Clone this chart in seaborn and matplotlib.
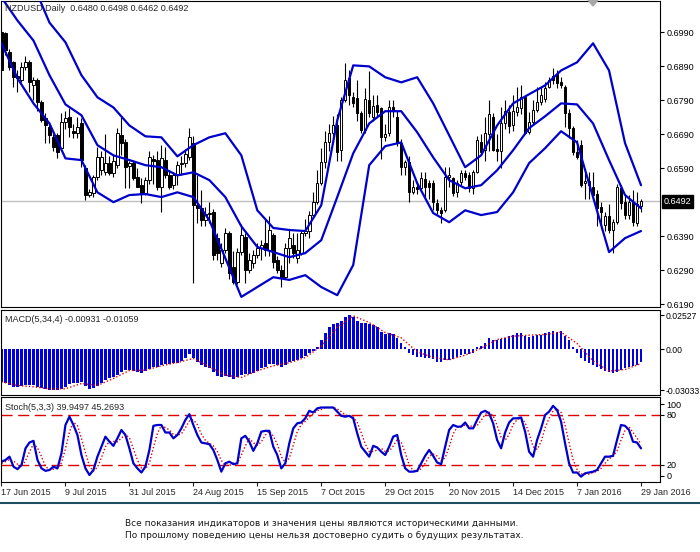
import matplotlib
matplotlib.use("Agg")
import matplotlib.pyplot as plt
import matplotlib.transforms as mtransforms
from matplotlib.lines import Line2D
from matplotlib.patches import Polygon
import numpy as np
import seaborn as sns

sns.set_style("white")
plt.rcParams['font.family'] = ['Liberation Sans', 'DejaVu Sans']

# daily NZDUSD candles, 17 Jun 2015 .. 29 Jan 2016
open_ = [
    .6990, .6987, .6931, .6902, .6863, .6849, .6887, .6902, .6834, .6849,
    .6784, .6737, .6710, .6681, .6687, .6649, .6725, .6740, .6699, .6693,
    .6722, .6590, .6511, .6517, .6564, .6585, .6578, .6605, .6576, .6599,
    .6687, .6667, .6596, .6605, .6564, .6540, .6517, .6555, .6617, .6614,
    .6534, .6614, .6570, .6540, .6570, .6602, .6605, .6623, .6664, .6481,
    .6472, .6437, .6455, .6461, .6384, .6311, .6349, .6399, .6299, .6255,
    .6343, .6387, .6290, .6311, .6334, .6355, .6370, .6349, .6393, .6320,
    .6290, .6270, .6355, .6364, .6325, .6340, .6399, .6405, .6452, .6490,
    .6546, .6608, .6667, .6693, .6717, .6643, .6790, .6855, .6799, .6796,
    .6752, .6702, .6790, .6740, .6775, .6766, .6681, .6693, .6770, .6740,
    .6664, .6593, .6608, .6520, .6534, .6531, .6558, .6546, .6546, .6487,
    .6466, .6466, .6564, .6561, .6520, .6549, .6575, .6570, .6531, .6578,
    .6667, .6643, .6690, .6740, .6646, .6640, .6722, .6755, .6717, .6755,
    .6766, .6799, .6696, .6725, .6763, .6784, .6793, .6829, .6862, .6867,
    .6843, .6828, .6752, .6708, .6637, .6658, .6546, .6552, .6534, .6514,
    .6475, .6423, .6449, .6408, .6431, .6531, .6490, .6452, .6490, .6428,
    .6480]
high = [
    .6998, .6990, .6940, .6905, .6879, .6902, .6920, .6908, .6858, .6855,
    .6790, .6752, .6722, .6690, .6695, .6752, .6760, .6767, .6720, .6740,
    .6737, .6600, .6530, .6570, .6652, .6640, .6690, .6625, .6630, .6708,
    .6740, .6675, .6610, .6615, .6590, .6560, .6565, .6640, .6630, .6640,
    .6658, .6652, .6585, .6578, .6610, .6625, .6648, .6708, .6685, .6570,
    .6525, .6475, .6490, .6470, .6400, .6370, .6415, .6405, .6345, .6355,
    .6425, .6400, .6340, .6350, .6370, .6380, .6440, .6450, .6400, .6330,
    .6305, .6370, .6410, .6400, .6400, .6405, .6440, .6465, .6520, .6585,
    .6650, .6700, .6720, .6745, .6750, .6800, .6899, .6880, .6815, .6850,
    .6760, .6825, .6875, .6805, .6805, .6770, .6720, .6790, .6790, .6760,
    .6675, .6615, .6625, .6555, .6550, .6580, .6580, .6555, .6555, .6500,
    .6475, .6595, .6595, .6565, .6555, .6585, .6585, .6578, .6585, .6685,
    .6690, .6740, .6790, .6752, .6690, .6770, .6790, .6775, .6805, .6830,
    .6835, .6805, .6755, .6790, .6830, .6830, .6845, .6860, .6885, .6878,
    .6860, .6835, .6765, .6715, .6672, .6672, .6575, .6580, .6580, .6525,
    .6490, .6460, .6485, .6440, .6545, .6540, .6510, .6510, .6525, .6520,
    .6498]
low = [
    .6875, .6925, .6880, .6828, .6814, .6843, .6880, .6814, .6790, .6760,
    .6725, .6663, .6663, .6640, .6620, .6640, .6705, .6681, .6680, .6678,
    .6593, .6496, .6505, .6505, .6555, .6570, .6570, .6570, .6565, .6590,
    .6630, .6531, .6531, .6555, .6534, .6487, .6510, .6545, .6545, .6525,
    .6460, .6560, .6528, .6530, .6540, .6570, .6595, .6615, .6252, .6430,
    .6420, .6420, .6430, .6320, .6320, .6300, .6340, .6264, .6250, .6250,
    .6335, .6252, .6280, .6295, .6325, .6320, .6330, .6330, .6295, .6280,
    .6240, .6265, .6310, .6325, .6310, .6335, .6390, .6385, .6445, .6485,
    .6540, .6590, .6640, .6675, .6610, .6610, .6785, .6775, .6770, .6730,
    .6695, .6695, .6740, .6730, .6745, .6618, .6670, .6685, .6740, .6655,
    .6570, .6570, .6490, .6515, .6515, .6525, .6505, .6500, .6466, .6455,
    .6428, .6460, .6535, .6508, .6505, .6540, .6555, .6520, .6515, .6575,
    .6630, .6610, .6640, .6640, .6610, .6590, .6705, .6695, .6700, .6745,
    .6750, .6690, .6690, .6720, .6755, .6775, .6785, .6825, .6838, .6825,
    .6825, .6710, .6680, .6628, .6618, .6535, .6500, .6500, .6505, .6420,
    .6410, .6405, .6400, .6340, .6425, .6470, .6440, .6440, .6420, .6420,
    .6462]
close = [
    .6878, .6937, .6887, .6858, .6855, .6887, .6902, .6843, .6849, .6784,
    .6731, .6716, .6687, .6652, .6637, .6725, .6737, .6710, .6693, .6710,
    .6614, .6511, .6520, .6564, .6623, .6623, .6605, .6576, .6611, .6693,
    .6664, .6593, .6605, .6561, .6534, .6517, .6555, .6623, .6611, .6534,
    .6620, .6570, .6534, .6570, .6599, .6605, .6631, .6681, .6481, .6472,
    .6437, .6455, .6458, .6334, .6340, .6349, .6399, .6281, .6255, .6343,
    .6393, .6290, .6320, .6334, .6355, .6364, .6349, .6408, .6314, .6290,
    .6270, .6355, .6384, .6340, .6349, .6399, .6405, .6452, .6490, .6546,
    .6608, .6667, .6693, .6717, .6637, .6790, .6849, .6805, .6781, .6752,
    .6702, .6793, .6752, .6773, .6755, .6681, .6690, .6770, .6760, .6664,
    .6593, .6608, .6520, .6534, .6528, .6561, .6534, .6534, .6490, .6466,
    .6458, .6564, .6570, .6517, .6546, .6575, .6564, .6531, .6578, .6672,
    .6637, .6693, .6749, .6643, .6640, .6722, .6758, .6714, .6760, .6769,
    .6799, .6693, .6725, .6763, .6784, .6805, .6826, .6849, .6849, .6840,
    .6834, .6752, .6708, .6637, .6623, .6540, .6552, .6540, .6511, .6472,
    .6461, .6449, .6408, .6431, .6534, .6487, .6452, .6490, .6431, .6485,
    .6492]

# Bollinger bands, read every 4th bar
bb_upper = [
    .7228, .7195, .7130, .7019, .6961, .6864, .6799, .6769, .6716, .6684,
    .6681, .6625, .6658, .6681, .6693, .6628, .6466, .6414, .6408, .6405,
    .6481, .6731, .6893, .6890, .6858, .6843, .6858, .6781, .6687, .6593,
    .6628, .6716, .6781, .6808, .6834, .6878, .6902, .6958, .6878, .6664,
    .6540]
bb_middle = [
    .7093, .7025, .6966, .6864, .6778, .6746, .6658, .6628, .6614, .6599,
    .6593, .6569, .6578, .6555, .6505, .6419, .6358, .6343, .6328, .6340,
    .6378, .6505, .6634, .6722, .6758, .6758, .6696, .6622, .6555, .6531,
    .6540, .6584, .6643, .6708, .6743, .6781, .6778, .6722, .6614, .6511,
    .6472]
bb_lower = [
    .6958, .6855, .6781, .6722, .6619, .6614, .6519, .6490, .6511, .6514,
    .6505, .6519, .6505, .6437, .6325, .6211, .6240, .6269, .6261, .6275,
    .6240, .6216, .6305, .6599, .6655, .6666, .6546, .6458, .6431, .6466,
    .6452, .6461, .6519, .6605, .6649, .6699, .6666, .6505, .6343, .6384,
    .6405]

# MACD(5,34,4) histogram per bar and signal every 4th bar
macd = [
    -.02404, -.02527, -.02650, -.02774, -.02823, -.02724, -.02650, -.02650, -.02650, -.02774,
    -.02897, -.02971, -.03010, -.03020, -.03033, -.02971, -.02823, -.02576, -.02527, -.02478,
    -.02404, -.02724, -.02971, -.02897, -.02724, -.02478, -.02281, -.02157, -.02034, -.01911,
    -.01664, -.01541, -.01541, -.01590, -.01664, -.01787, -.01590, -.01492, -.01344, -.01294,
    -.01171, -.01122, -.01122, -.01048, -.00999, -.00875, -.00678, -.00358, -.00678, -.00925,
    -.01171, -.01294, -.01418, -.01664, -.01985, -.02034, -.01985, -.02083, -.02207, -.02083,
    -.01911, -.01837, -.01837, -.01738, -.01590, -.01418, -.01294, -.01097, -.01097, -.01171,
    -.01294, -.01171, -.00925, -.00875, -.00801, -.00678, -.00505, -.00259, -.00111, .00185,
    .00678, .01220, .01615, .01861, .01911, .02108, .02404, .02527, .02404, .02108,
    .01960, .01911, .01861, .01787, .01664, .01294, .01122, .01171, .01122, .00801,
    .00431, .00185, -.00259, -.00431, -.00604, -.00604, -.00629, -.00678, -.00752, -.00925,
    -.00925, -.00801, -.00801, -.00752, -.00604, -.00431, -.00358, -.00358, -.00259, .00136,
    .00234, .00481, .00851, .00678, .00678, .00727, .00851, .00974, .01048, .01171,
    .01171, .00974, .00875, .00974, .01048, .01048, .01171, .01270, .01344, .01294,
    .01344, .00974, .00678, .00185, -.00259, -.00678, -.00850, -.00999, -.01171, -.01294,
    -.01492, -.01590, -.01664, -.01787, -.01664, -.01541, -.01418, -.01344, -.01250, -.01150,
    -.00931]
macd_signal = [
    -.02404, -.02675, -.02774, -.02922, -.02922, -.02527, -.02675, -.02157, -.01566, -.01541,
    -.01220, -.00974, -.00678, -.01294, -.01911, -.02083, -.01590, -.01220, -.00999, -.00604,
    .00234, .01615, .02478, .01985, .01245, .00851, -.00185, -.00604, -.00777, -.00431,
    .00086, .00727, .00974, .01048, .01097, .01270, .00431, -.00851, -.01615, -.01492,
    -.01059]

# Stochastic(5,3,3) main and signal per bar
stoch_k = [
    24, 26, 30, 18, 15, 20, 40, 47, 49, 26, 16, 13, 14, 18, 16, 34, 68, 78, 68, 56,
    32, 16, 8, 14, 30, 42, 54, 48, 43, 52, 62, 56, 40, 22, 16, 11, 18, 38, 67, 68,
    68, 59, 59, 52, 56, 64, 74, 81, 68, 56, 47, 46, 45, 38, 26, 12, 22, 24, 21, 22,
    52, 55, 48, 37, 46, 60, 61, 61, 42, 32, 16, 22, 46, 64, 70, 71, 76, 85, 83, 88,
    89, 89, 89, 89, 84, 79, 78, 79, 76, 58, 42, 36, 30, 43, 41, 36, 32, 42, 54, 56,
    32, 16, 12, 12, 13, 22, 31, 38, 31, 23, 21, 42, 62, 68, 66, 66, 71, 64, 64, 74,
    83, 85, 82, 70, 50, 40, 59, 71, 76, 76, 77, 60, 36, 30, 50, 64, 80, 84, 91, 86,
    72, 46, 22, 11, 11, 6, 10, 11, 12, 14, 22, 30, 30, 31, 50, 68, 67, 62, 48, 47,
    39.95]
stoch_d = [
    22, 24, 26.7, 24.7, 21, 17.7, 25, 35.7, 45.3, 40.7, 30.3, 18.3, 14.3, 15, 16, 22.7, 39.3, 60, 71.3, 67.3,
    52, 34.7, 18.7, 12.7, 17.3, 28.7, 42, 48, 48.3, 47.7, 52.3, 56.7, 52.7, 39.3, 26, 16.3, 15, 22.3, 41, 57.7,
    67.7, 65, 62, 56.7, 55.7, 57.3, 64.7, 73, 74.3, 68.3, 57, 49.7, 46, 43, 36.3, 25.3, 20, 19.3, 22.3, 22.3,
    31.7, 43, 51.7, 46.7, 43.7, 47.7, 55.7, 60.7, 54.7, 45, 30, 23.3, 28, 44, 60, 68.3, 72.3, 77.3, 81.3, 85.3,
    86.7, 88.7, 89, 89, 87.3, 84, 80.3, 78.7, 77.7, 71, 58.7, 45.3, 36, 36.3, 38, 40, 36.3, 36.7, 42.7, 50.7,
    47.3, 34.7, 20, 13.3, 12.3, 15.7, 22, 30.3, 33.3, 30.7, 25, 28.7, 41.7, 57.3, 65.3, 66.7, 67.7, 67, 66.3, 67.3,
    73.7, 80.7, 83.3, 79, 67.3, 53.3, 49.7, 56.7, 68.7, 74.3, 76.3, 71, 57.7, 42, 38.7, 48, 64.7, 76, 85, 87,
    83, 68, 46.7, 26.3, 14.7, 9.3, 9, 9, 11, 12.3, 16, 22, 27.3, 30.3, 37, 49.7, 61.7, 65.7, 59, 52.3,
    45.27]

date_labels = ["17 Jun 2015", "9 Jul 2015", "31 Jul 2015", "24 Aug 2015", "15 Sep 2015",
               "7 Oct 2015", "29 Oct 2015", "20 Nov 2015", "14 Dec 2015", "7 Jan 2016",
               "29 Jan 2016"]
# 0.6490 is hidden behind the current-price box in the original
price_ticks = [0.6190, 0.6290, 0.6390, 0.6590, 0.6690, 0.6790, 0.6890, 0.6990]

open_ = np.array(open_)
high = np.array(high)
low = np.array(low)
close = np.array(close)
bars = np.arange(len(close))
band_bars = bars[::4]

W, H = 700, 552
fig = plt.figure(figsize=(W / 100, H / 100), dpi=100)


def px_axes(x0, y0, x1, y1):
    return fig.add_axes([x0 / W, 1 - y1 / H, (x1 - x0) / W, (y1 - y0) / H])


ax_p = px_axes(0.5, 0.5, 660, 307)
ax_m = px_axes(0.5, 310, 660, 395)
ax_s = px_axes(0.5, 397, 660, 482)

blue = '#0000CD'
red = '#E00000'
fs = 6.5

for ax in (ax_p, ax_m, ax_s):
    ax.yaxis.tick_right()
    ax.tick_params(axis='y', direction='out', length=3, width=0.8, labelsize=fs,
                   pad=1.5, colors='black', right=True, left=False)
    for s in ax.spines.values():
        s.set_color('black')
        s.set_linewidth(0.8)

# price panel
ax_p.axhline(0.6492, color='#C0C0C0', lw=1, zorder=0)
ax_p.vlines(bars, low, high, color='black', lw=0.8, zorder=1)
body_lo = np.minimum(open_, close)
body_h = np.maximum(np.abs(close - open_), 0.00004)
ax_p.bar(bars, body_h, bottom=body_lo, width=0.62,
         color=np.where(close >= open_, 'white', 'black'),
         edgecolor='black', linewidth=0.7, zorder=2)
for band in (bb_upper, bb_middle, bb_lower):
    sns.lineplot(x=band_bars, y=band, ax=ax_p, color=blue, linewidth=1.6,
                 estimator=None, zorder=3)
ax_p.set_ylim(0.61812, 0.70841)
ax_p.set_yticks(price_ticks)
ax_p.set_yticklabels([f"{v:.4f}" for v in price_ticks])
ax_p.text(0.007, 0.99, "NZDUSD,Daily  0.6480 0.6498 0.6462 0.6492", fontsize=fs,
          transform=ax_p.transAxes, va='top', ha='left')
trans = mtransforms.blended_transform_factory(ax_p.transAxes, ax_p.transData)
ax_p.text(1.006, 0.6492, "0.6492", transform=trans, color='white', fontsize=fs,
          va='center', ha='left', clip_on=False,
          bbox=dict(boxstyle='square,pad=0.2', fc='black', ec='black'))

# MACD panel
sns.barplot(x=bars, y=macd, native_scale=True, color='#0000E0', saturation=1,
            width=0.65, ax=ax_m, errorbar=None, linewidth=0)
sns.lineplot(x=band_bars, y=macd_signal, ax=ax_m, color=red, linewidth=1,
             linestyle=(0, (1, 1.5)), estimator=None)
ax_m.set_ylim(-0.0338, 0.0291)
ax_m.set_yticks([0.02527, 0.0, -0.03033])
ax_m.set_yticklabels(["0.02527", "0.00", "-0.03033"])
ax_m.tick_params(axis='y', labelsize=6.2, pad=1)
ax_m.text(0.007, 0.89, "MACD(5,34,4) -0.00931 -0.01059", transform=ax_m.transAxes,
          fontsize=fs, va='center')

# Stochastic panel
for lvl in (80, 20):
    ax_s.axhline(lvl, color=red, lw=1, linestyle=(0, (8, 4)), zorder=0)
sns.lineplot(x=bars, y=stoch_d, ax=ax_s, color=red, linewidth=1,
             linestyle=(0, (1, 1.5)), estimator=None)
sns.lineplot(x=bars, y=stoch_k, ax=ax_s, color=blue, linewidth=1.6, estimator=None)
ax_s.set_ylim(-0.4, 101.6)
ax_s.set_yticks([93, 80, 20, 7])
ax_s.set_yticklabels(["100", "80", "20", "0"])
ax_s.text(0.007, 0.88, "Stoch(5,3,3) 39.9497 45.2693", transform=ax_s.transAxes,
          fontsize=fs, va='center')

for ax in (ax_p, ax_m, ax_s):
    ax.set_xlabel('')
    ax.set_ylabel('')
    ax.set_xlim(-0.25, 164.75)
    ax.set_xticks(np.arange(0, 161, 16))
    ax.tick_params(axis='x', bottom=False, labelbottom=False)

ax_s.tick_params(axis='x', bottom=True, labelbottom=True, direction='out', length=3,
                 width=0.8, labelsize=fs, pad=1.5)
ax_s.set_xticklabels(date_labels, ha='left')

# shift marker, separator and disclaimer
fig.add_artist(Polygon([[588 / W, 1], [598 / W, 1], [593 / W, 1 - 6 / H]],
                       closed=True, transform=fig.transFigure, color='#A8A8A8'))
fig.add_artist(Line2D([0, 1], [1 - 503 / H, 1 - 503 / H], transform=fig.transFigure,
                      color='#1D4E62', lw=1.5))
fig.text(125 / W, 1 - 523 / H,
         "Все показания индикаторов и значения цены являются историческими данными.",
         fontsize=6.5, family=['DejaVu Sans'], color='#1a1a1a', va='center')
fig.text(125 / W, 1 - 535 / H,
         "По прошлому поведению цены нельзя достоверно судить о будущих результатах.",
         fontsize=6.5, family=['DejaVu Sans'], color='#1a1a1a', va='center')

fig.savefig("out.png", dpi=100)
